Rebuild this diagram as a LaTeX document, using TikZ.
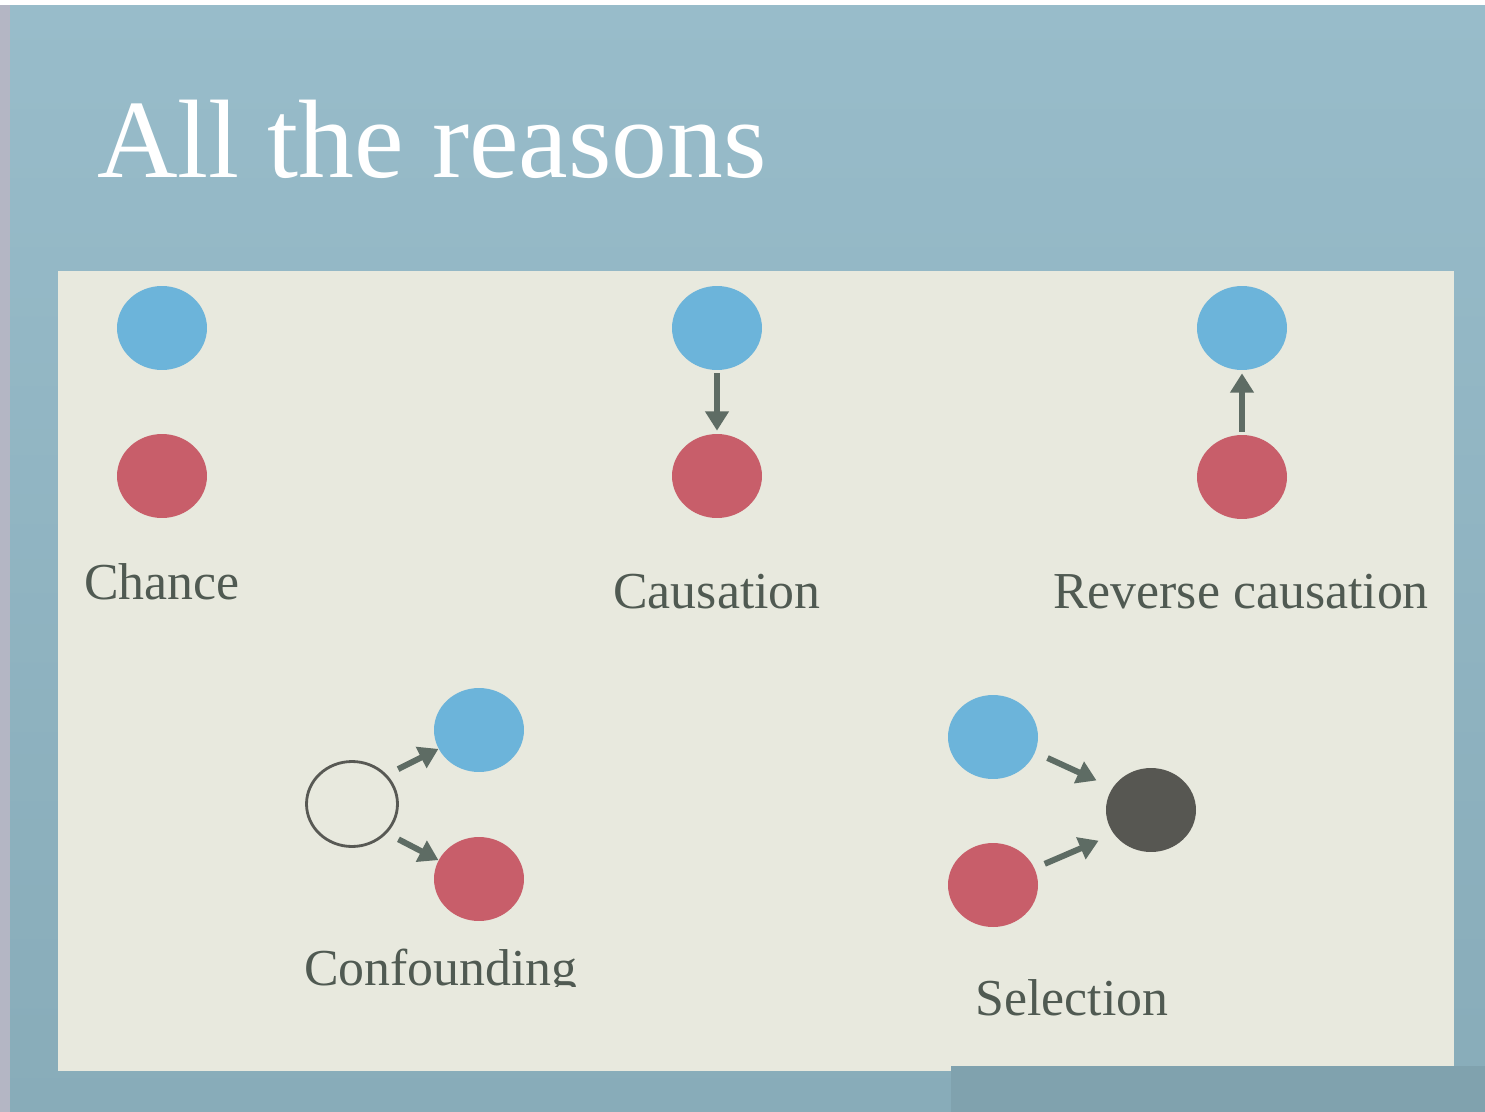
\documentclass[tikz,border=0pt]{standalone}
\usepackage{fontspec}
\setmainfont{Liberation Serif}
\usetikzlibrary{arrows.meta,shapes.geometric}

\definecolor{slatetop}{HTML}{98BCCA}
\definecolor{slatebottom}{HTML}{88ACB9}
\definecolor{slatebar}{HTML}{80A2AE}
\definecolor{edgegrey}{HTML}{B4B6C4}
\definecolor{paper}{HTML}{E8E9DE}
\definecolor{dotblue}{HTML}{6CB4DA}
\definecolor{dotred}{HTML}{C85E6A}
\definecolor{dotdark}{HTML}{575752}
\definecolor{arrowgrey}{HTML}{5E6C64}
\definecolor{inkgrey}{HTML}{505A52}

\tikzset{
  dot/.style={ellipse, inner sep=0pt, minimum width=1.8cm, minimum height=1.68cm},
  bluedot/.style={dot, fill=dotblue},
  reddot/.style={dot, fill=dotred},
  darkdot/.style={dot, fill=dotdark},
  hollowdot/.style={ellipse, inner sep=0pt, minimum width=1.82cm, minimum height=1.7cm,
    draw=dotdark!90!arrowgrey, line width=1.6pt},
  link/.style={draw=arrowgrey, line width=3.4pt,
    -{Triangle[width=13pt,length=11pt]}},
  caption/.style={anchor=base, inner sep=0pt, text=inkgrey, font=\fontsize{29.5}{34}\selectfont},
}

\begin{document}
\begin{tikzpicture}[x=0.02cm, y=-0.02cm]
  \useasboundingbox (0,0) rectangle (1485,1112);

  % slide background
  \fill[white] (0,0) rectangle (1485,1112);
  \fill[edgegrey] (0,5) rectangle (10,1112);
  \shade[top color=slatetop, bottom color=slatebottom] (10,5) rectangle (1485,1112);

  % title
  \node[anchor=base west, inner sep=0pt, text=white,
        font=\fontsize{63.5}{72}\selectfont] (title) at (97,177) {All the reasons};

  % paper panel
  \fill[paper] (58,271) rectangle (1454,1071);
  \fill[slatebar] (951,1066) rectangle (1485,1112);

  % Chance
  \node[bluedot] (chB) at (162,328) {};
  \node[reddot]  (chR) at (162,476) {};
  \node[caption] (chL) at (162,599) {Chance};

  % Causation
  \node[bluedot] (caB) at (717,328) {};
  \node[reddot]  (caR) at (717,476) {};
  \draw[link, shorten <=0.06cm, shorten >=0.06cm] (caB.south) -- (caR.north);
  \node[caption] (caL) at (717,608) {Causation};

  % Reverse causation
  \node[bluedot] (rcB) at (1242,328) {};
  \node[reddot]  (rcR) at (1242,477) {};
  \draw[link, shorten <=0.06cm, shorten >=0.06cm] (rcR.north) -- (rcB.south);
  \node[caption] (rcL) at (1241,608) {Reverse causation};

  % Confounding
  \node[hollowdot] (cfU) at (352,804) {};
  \node[bluedot]   (cfB) at (479,730) {};
  \node[reddot]    (cfR) at (479,879) {};
  \draw[link, shorten <=0.25cm] (cfU.40) -- (cfB.205);
  \draw[link, shorten <=0.26cm] (cfU.-40) -- (cfR.155);
  \begin{scope}
    \clip (0,0) rectangle (1485,986);
    \node[caption] (cfL) at (441,985) {Confounding};
  \end{scope}

  % Selection
  \node[bluedot] (slB) at (993,737) {};
  \node[reddot]  (slR) at (993,885) {};
  \node[darkdot] (slK) at (1151,810) {};
  \draw[link, shorten <=0.27cm, shorten >=0.35cm] (slB.-20) -- (slK.150);
  \draw[link, shorten <=0.22cm, shorten >=0.33cm] (slR.22) -- (slK.213);
  \node[caption] (slL) at (1072,1015) {Selection};
\end{tikzpicture}
\end{document}
